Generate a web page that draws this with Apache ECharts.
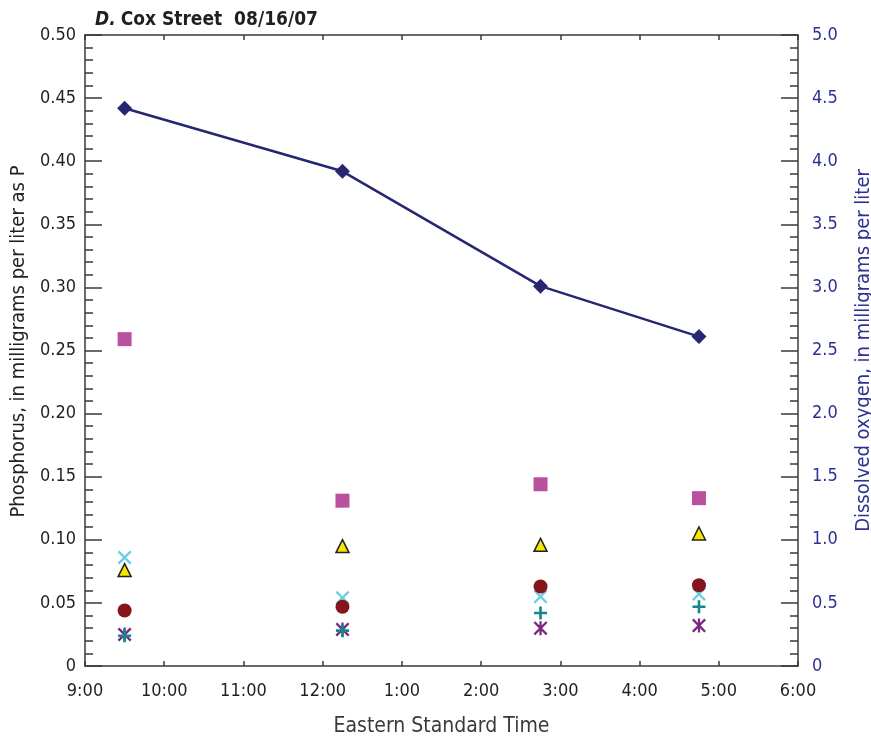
<!DOCTYPE html>
<html>
<head>
<meta charset="utf-8">
<script src="https://cdn.jsdelivr.net/npm/echarts@6/dist/echarts.min.js"></script>
<style>html,body{margin:0;padding:0;background:#fff}#c{width:871px;height:740px}</style>
</head>
<body>
<div id="c"></div>
<script>
// Sample times (decimal hours, Eastern Standard Time)
var times = [9.5, 12.25, 14.75, 16.75];
// Dissolved oxygen, mg/L (right axis)
var dissolvedOxygen = [4.42, 3.92, 3.01, 2.61];
// Phosphorus series, mg/L as P (left axis)
var squareSeries = [0.259, 0.131, 0.144, 0.133];
var triangleSeries = [0.076, 0.095, 0.096, 0.105];
var crossSeries = [0.086, 0.054, 0.055, 0.057];
var circleSeries = [0.044, 0.047, 0.063, 0.064];
var plusSeries = [0.024, 0.028, 0.042, 0.047];
var asteriskSeries = [0.025, 0.029, 0.030, 0.032];
// Axis ticks
var xTicks = [9, 10, 11, 12, 13, 14, 15, 16, 17, 18];

var FONT = "'Liberation Sans Narrow','DejaVu Sans Condensed','Liberation Sans',sans-serif";
var AX = '#3a3a3a';
var BLUE = '#2e3192';

function pairs(vals){ return times.map(function(t,i){ return [t, vals[i]]; }); }

var X_PATH = 'path://M12,0 L50,38 L88,0 L100,12 L62,50 L100,88 L88,100 L50,62 L12,100 L0,88 L38,50 L0,12 Z';
var PLUS_PATH = 'path://M40,0 L60,0 L60,40 L100,40 L100,60 L60,60 L60,100 L40,100 L40,60 L0,60 L0,40 L40,40 Z';
var AST_PATH = 'path://M12,0 L50,38 L88,0 L100,12 L62,50 L100,88 L88,100 L50,62 L12,100 L0,88 L38,50 L0,12 Z M42,0 L58,0 L58,100 L42,100 Z';

var chart = echarts.init(document.getElementById('c'), null, {renderer:'canvas'});
chart.setOption({
  animation: false,
  backgroundColor: '#fff',
  title: {
    text: '{i|D.} {b|Cox Street  08/16/07}',
    left: 90, top: 6,
    textStyle: {
      rich: {
        i: {fontFamily: FONT, fontSize: 19, fontWeight: 'bold', fontStyle: 'italic', color: '#231f20'},
        b: {fontFamily: FONT, fontSize: 19, fontWeight: 'bold', color: '#231f20'}
      }
    }
  },
  grid: {left: 85, right: 73, top: 35, bottom: 74, containLabel: false, outerBoundsMode: 'none'},
  xAxis: [{
    type: 'value', min: 9, max: 18, interval: 1, position: 'bottom',
    name: 'Eastern Standard Time', nameLocation: 'middle', nameGap: 50,
    nameTextStyle: {fontFamily: FONT, fontSize: 21, color: '#3a3a3a'},
    axisLine: {show: true, onZero: false, lineStyle: {color: AX, width: 1.5}},
    axisTick: {show: true, inside: true, length: 5, lineStyle: {color: AX, width: 1.5}},
    axisLabel: {fontFamily: FONT, fontSize: 18, color: '#231f20', margin: 16,
      formatter: function(v){ var h = v > 12 ? v - 12 : v; return h + ':00'; }},
    splitLine: {show: false}
  }, {
    type: 'value', min: 9, max: 18, interval: 1, position: 'top',
    axisLine: {show: true, onZero: false, lineStyle: {color: AX, width: 1.5}},
    axisTick: {show: true, inside: true, length: 5, lineStyle: {color: AX, width: 1.5}},
    axisLabel: {show: false}, splitLine: {show: false}
  }],
  yAxis: [{
    type: 'value', min: 0, max: 0.5, interval: 0.05, position: 'left',
    name: 'Phosphorus, in milligrams per liter as P', nameLocation: 'middle', nameGap: 56,
    nameTextStyle: {fontFamily: FONT, fontSize: 20, color: '#231f20', padding: [0, 0, 0, 18]},
    axisLine: {show: true, onZero: false, lineStyle: {color: AX, width: 1.5}},
    axisTick: {show: true, inside: true, length: 17, lineStyle: {color: AX, width: 1.5}},
    minorTick: {show: true, splitNumber: 5, length: 8, lineStyle: {color: AX, width: 1.5}},
    axisLabel: {fontFamily: FONT, fontSize: 18, color: '#231f20', margin: 9,
      formatter: function(v){ return v === 0 ? '0' : v.toFixed(2); }},
    splitLine: {show: false}
  }, {
    type: 'value', min: 0, max: 5, interval: 0.5, position: 'right',
    name: 'Dissolved oxygen, in milligrams per liter', nameLocation: 'middle', nameGap: 56,
    nameRotate: 90,
    nameTextStyle: {fontFamily: FONT, fontSize: 20, color: BLUE},
    axisLine: {show: true, onZero: false, lineStyle: {color: AX, width: 1.5}},
    axisTick: {show: true, inside: true, length: 17, lineStyle: {color: AX, width: 1.5}},
    minorTick: {show: true, splitNumber: 5, length: 8, lineStyle: {color: AX, width: 1.5}},
    axisLabel: {fontFamily: FONT, fontSize: 18, color: BLUE, margin: 14,
      formatter: function(v){ return v === 0 ? '0' : v.toFixed(1); }},
    splitLine: {show: false}
  }],
  series: [
    {type: 'line', name: 'Dissolved oxygen', yAxisIndex: 1, data: pairs(dissolvedOxygen),
      symbol: 'diamond', symbolSize: 15, showAllSymbol: true,
      lineStyle: {color: '#262673', width: 2.5}, itemStyle: {color: '#262673', opacity: 1}, z: 5},
    {type: 'scatter', data: pairs(squareSeries), symbol: 'rect', symbolSize: 14,
      itemStyle: {color: '#b9519e', opacity: 1}},
    {type: 'scatter', data: pairs(triangleSeries), symbol: 'triangle', symbolSize: 13,
      itemStyle: {color: '#f5e600', borderColor: '#231f20', borderWidth: 1.5, opacity: 1}},
    {type: 'scatter', data: pairs(crossSeries), symbol: X_PATH, symbolSize: 14,
      itemStyle: {color: '#6ccfe0', opacity: 1}},
    {type: 'scatter', data: pairs(circleSeries), symbol: 'circle', symbolSize: 14,
      itemStyle: {color: '#85151a', opacity: 1}},
    {type: 'scatter', data: pairs(asteriskSeries), symbol: AST_PATH, symbolSize: 14,
      itemStyle: {color: '#7b2883', opacity: 1}},
    {type: 'scatter', data: pairs(plusSeries), symbol: PLUS_PATH, symbolSize: 13,
      itemStyle: {color: '#13878a', opacity: 1}}
  ]
});
</script>
</body>
</html>
